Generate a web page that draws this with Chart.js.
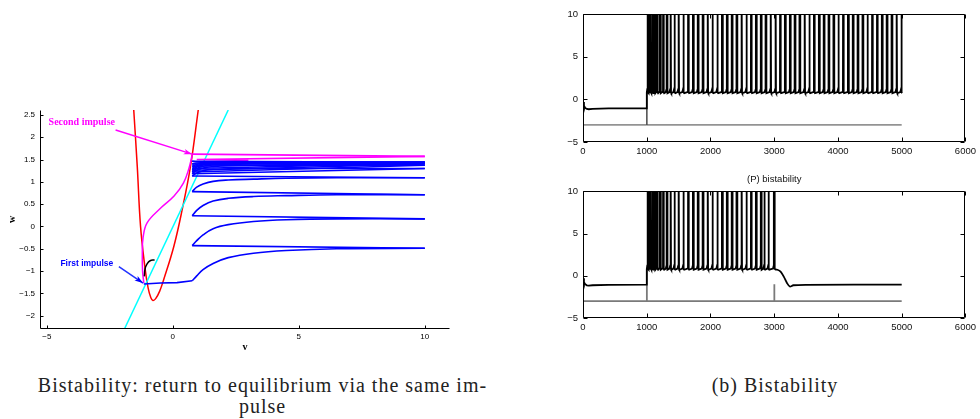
<!DOCTYPE html>
<html>
<head>
<meta charset="utf-8">
<script src="https://cdn.jsdelivr.net/npm/chart.js@4.4.1/dist/chart.umd.min.js"></script>
<style>
html, body { margin: 0; padding: 0; background: #fff; width: 980px; height: 419px; overflow: hidden; }
.pane { position: absolute; }
.cap { position: absolute; font-family: "Liberation Serif", serif; font-size: 20px; line-height: 20px;
       color: #222; white-space: nowrap; text-align: center; letter-spacing: 1px; }
</style>
</head>
<body>
<div class="pane" style="left:0;top:100px"><canvas id="phase" width="460" height="260"></canvas></div>
<div class="pane" style="left:530px;top:0"><canvas id="trainTop" width="450" height="160"></canvas></div>
<div class="pane" style="left:530px;top:160px"><canvas id="trainBottom" width="450" height="180"></canvas></div>
<div class="cap" style="left:20px;top:375px;width:485px">Bistability: return to equilibrium via the same im-</div>
<div class="cap" style="left:20px;top:396px;width:485px">pulse</div>
<div class="cap" style="left:620px;top:375px;width:310px">(b) Bistability</div>

<script>
// ---------- phase plane (left) ----------
const V_TICKS = [-5, 0, 5, 10];
const W_TICKS = [-2, -1.5, -1, -0.5, 0, 0.5, 1, 1.5, 2, 2.5];

// red nullcline
const NULL_V = [-1.55, -1.41, -1.28, -1.11, -0.98, -0.87, -0.79, -0.68, -0.52, -0.36, 0.04, 0.37, 0.70, 1.01];
const NULL_W = [2.61, 1.34, 0.0, -0.90, -1.38, -1.60, -1.66, -1.62, -1.45, -1.19, -0.45, 0.37, 1.34, 2.61];

// cyan nullcline
const LIN_V = [-1.92, 2.2];
const LIN_W = [-2.3, 2.61];

// black arc near rest
const ARC_V = [-1.13, -1.10, -1.02, -0.90, -0.72];
const ARC_W = [-1.12, -0.95, -0.84, -0.77, -0.75];

// blue: first impulse, flat part
const FIRST_V = [-1.15, -0.49, 0.17, 0.77];
const FIRST_W = [-1.29, -1.27, -1.26, -1.22];

// blue: each climb toward v = 10, sampled at the same v values
const RISE_V = [0.77, 0.95, 1.2, 1.6, 2.2, 3.2, 4.5, 6.5, 10];
const RISE_W = [
  [-1.22, -1.11, -0.97, -0.83, -0.70, -0.60, -0.54, -0.50, -0.49],
  [-0.43, -0.32, -0.19, -0.05, 0.04, 0.11, 0.15, 0.17, 0.17],
  [0.24, 0.36, 0.47, 0.57, 0.63, 0.67, 0.69, 0.71, 0.71],
  [0.78, 0.88, 0.95, 1.01, 1.04, 1.06, 1.08, 1.09, 1.09],
  [1.13, 1.20, 1.25, 1.28, 1.29, 1.30, 1.30, 1.30, 1.30],
  [1.18, 1.26, 1.31, 1.34, 1.36, 1.37, 1.37, 1.37, 1.37],
  [1.22, 1.30, 1.35, 1.38, 1.39, 1.40, 1.40, 1.40, 1.40],
  [1.26, 1.33, 1.38, 1.40, 1.41, 1.42, 1.42, 1.42, 1.42],
  [1.30, 1.36, 1.40, 1.42, 1.43, 1.43, 1.43, 1.43, 1.43],
  [1.35, 1.39, 1.42, 1.43, 1.44, 1.44, 1.44, 1.44, 1.44],
  [1.40, 1.42, 1.43, 1.44, 1.44, 1.44, 1.44, 1.44, 1.44],
  [1.46, 1.45, 1.44, 1.44, 1.44, 1.44, 1.44, 1.44, 1.44]
];

// magenta: second impulse
const MAG_UP_V = [-1.15, -1.20, -1.21, -1.18, -1.02, -0.50, 0.05, 0.42, 0.64, 0.77];
const MAG_UP_W = [-1.27, -1.00, -0.60, -0.25, 0.08, 0.40, 0.68, 0.97, 1.30, 1.60];
const MAG_TOP_V = [0.77, 10];
const MAG_TOP_W = [1.62, 1.57];
const MAG_BACK_V = [10, 0.95, 3.0];
const MAG_BACK_W = [1.57, 1.50, 1.48];

// arrows and labels
const ARROW2_V = [-2.27, 0.77];
const ARROW2_W = [2.16, 1.62];
const ARROW1_V = [-2.14, -1.18];
const ARROW1_W = [-0.90, -1.27];
const LABEL_TEXT = ['Second impulse', 'First impulse'];
const LABEL_V = [-4.93, -4.46];
const LABEL_W = [2.33, -0.84];
const LABEL_COLOR = ['#ff00ff', '#0000ff'];

// ---------- spike trains (right) ----------
const T_TICKS = [0, 1000, 2000, 3000, 4000, 5000, 6000];
const Y_TICKS = [-5, 0, 5, 10];

const REST_T = [0, 15, 35, 60, 90, 150, 400, 1000];
const REST_V = [-0.3, -0.75, -1.0, -1.13, -1.16, -1.12, -1.07, -1.05];

const SPIKES_TOP = [1008, 1030, 1055, 1085, 1120, 1160, 1205, 1255, 1310, 1368, 1430, 1494,
  1570, 1647, 1722, 1798, 1875, 1950, 2026, 2103, 2178, 2254, 2331, 2406, 2482, 2559, 2634,
  2710, 2787, 2862, 2938, 3015, 3090, 3166, 3243, 3318, 3394, 3471, 3546, 3622, 3699, 3774,
  3850, 3927, 4002, 4078, 4155, 4230, 4306, 4383, 4458, 4534, 4611, 4686, 4762, 4839, 4914, 4990];
const SPIKES_BOTTOM = [1008, 1030, 1055, 1085, 1120, 1160, 1205, 1255, 1310, 1368, 1430, 1494,
  1570, 1647, 1722, 1798, 1875, 1950, 2026, 2103, 2178, 2254, 2331, 2406, 2482, 2559, 2634,
  2710, 2787, 2840, 2905, 2992];

const POST_T = [3010, 3050, 3100, 3150, 3200, 3245, 3300, 3500, 5000];
const POST_V = [0.75, 0.72, 0.5, -0.1, -0.85, -1.27, -1.12, -1.07, -1.05];

const STIM_TOP_T = [0, 1000, 1000, 1004, 5000];
const STIM_TOP_V = [-3, -3, 0.8, -3, -3];
const STIM_BOT_T = [0, 1000, 1000, 1004, 3000, 3000, 3004, 5000];
const STIM_BOT_V = [-3, -3, 0.8, -3, -3, -1.0, -3, -3];

// ---------- helpers ----------
function pts(xs, ys) { return xs.map((x, i) => ({x: x, y: ys[i]})); }

function line(data, color, width, tension, order) {
  return { data: data, borderColor: color, borderWidth: width, tension: tension || 0,
           order: order || 0, pointRadius: 0, showLine: true, fill: false };
}

// turns the spike times into a voltage trace (peaks go past 10 and get clipped)
function spikeTrace(spikes) {
  const out = [];
  for (let i = 0; i < spikes.length; i++) {
    const t = spikes[i];
    const prevEnd = i > 0 ? spikes[i - 1] + 18 : 1002;
    if (t - 12 > prevEnd) out.push({x: t - 12, y: 0.85});
    out.push({x: t, y: 1.2}, {x: t + 2, y: 14}, {x: t + 11, y: 14}, {x: t + 13, y: 0.8}, {x: t + 18, y: 0.72});
  }
  return out;
}

const fmt = v => String(v).replace('-', '\u2212');

// inward tick marks, optional full box
const framePlugin = {
  id: 'frame',
  afterDraw(chart, args, opts) {
    const {ctx, chartArea: a, scales: {x, y}} = chart;
    const L = opts.len || 4;
    const l = Math.round(a.left) + 0.5, r = Math.round(a.right) - 0.5;
    const t = Math.round(a.top) + 0.5, b = Math.round(a.bottom) - 0.5;
    ctx.save();
    ctx.strokeStyle = '#000';
    ctx.lineWidth = 1;
    ctx.beginPath();
    if (opts.box) {
      ctx.rect(l, t, r - l, b - t);
    } else {
      ctx.moveTo(l, t); ctx.lineTo(l, b); ctx.lineTo(r, b);
    }
    x.ticks.forEach(tk => {
      const px = Math.round(x.getPixelForValue(tk.value)) + 0.5;
      ctx.moveTo(px, b); ctx.lineTo(px, b - L);
      if (opts.box) { ctx.moveTo(px, t); ctx.lineTo(px, t + L); }
    });
    y.ticks.forEach(tk => {
      const py = Math.round(y.getPixelForValue(tk.value)) + 0.5;
      ctx.moveTo(l, py); ctx.lineTo(l + L, py);
      if (opts.box) { ctx.moveTo(r, py); ctx.lineTo(r - L, py); }
    });
    ctx.stroke();
    ctx.restore();
  }
};

// labels, arrow heads and axis titles of the phase plane
const phaseDecor = {
  id: 'phaseDecor',
  afterDraw(chart) {
    const {ctx, chartArea: a, scales: {x, y}} = chart;
    ctx.save();
    const heads = [[ARROW2_V, ARROW2_W, '#ff00ff'], [ARROW1_V, ARROW1_W, '#0000ff']];
    heads.forEach(([vs, ws, c]) => {
      const x0 = x.getPixelForValue(vs[0]), y0 = y.getPixelForValue(ws[0]);
      const x1 = x.getPixelForValue(vs[1]), y1 = y.getPixelForValue(ws[1]);
      const ang = Math.atan2(y1 - y0, x1 - x0), hl = 9, sp = 0.32;
      ctx.fillStyle = c;
      ctx.beginPath();
      ctx.moveTo(x1, y1);
      ctx.lineTo(x1 - hl * Math.cos(ang - sp), y1 - hl * Math.sin(ang - sp));
      ctx.lineTo(x1 - hl * 0.7 * Math.cos(ang), y1 - hl * 0.7 * Math.sin(ang));
      ctx.lineTo(x1 - hl * Math.cos(ang + sp), y1 - hl * Math.sin(ang + sp));
      ctx.closePath();
      ctx.fill();
    });
    ctx.textBaseline = 'middle';
    ctx.textAlign = 'left';
    LABEL_TEXT.forEach((s, i) => {
      ctx.fillStyle = LABEL_COLOR[i];
      ctx.font = i === 0 ? 'bold 10px "Liberation Serif"' : 'bold 8.5px "Liberation Sans"';
      ctx.fillText(s, x.getPixelForValue(LABEL_V[i]), y.getPixelForValue(LABEL_W[i]));
    });
    ctx.fillStyle = '#000';
    ctx.font = 'bold 10px "Liberation Serif"';
    ctx.textAlign = 'center';
    ctx.fillText('v', (a.left + a.right) / 2 + 0, a.bottom + 18);
    ctx.translate(12, (a.top + a.bottom) / 2);
    ctx.rotate(-Math.PI / 2);
    ctx.fillText('w', 0, 0);
    ctx.restore();
  }
};

Chart.defaults.animation = false;
Chart.defaults.events = [];
Chart.defaults.plugins.legend.display = false;
Chart.defaults.plugins.tooltip.enabled = false;
Chart.defaults.color = '#000';

// ---------- left chart ----------
const phaseSets = [];
phaseSets.push(line(pts(ARROW2_V, ARROW2_W), '#ff00ff', 1.5, 0, 0));
phaseSets.push(line(pts(ARROW1_V, ARROW1_W), '#2233ff', 1.5, 0, 0));
phaseSets.push(line(pts(ARC_V, ARC_W), '#000000', 1.5, 0.4, 1));
phaseSets.push(line(pts(FIRST_V, FIRST_W), '#0000ff', 1.6, 0, 2));
RISE_W.forEach((ws, k) => {
  phaseSets.push(line(pts(RISE_V, ws), '#0000ff', 1.6, 0.4, 2));
  if (k + 1 < RISE_W.length) {
    phaseSets.push(line([{x: 10, y: ws[ws.length - 1]}, {x: RISE_V[0], y: RISE_W[k + 1][0]}], '#0000ff', 1.6, 0, 2));
  }
});
phaseSets.push(line(pts(MAG_UP_V, MAG_UP_W), '#ff00ff', 1.5, 0.4, 3));
phaseSets.push(line(pts(MAG_TOP_V, MAG_TOP_W), '#ff00ff', 1.8, 0, 3));
phaseSets.push(line(pts(MAG_BACK_V, MAG_BACK_W), '#ff00ff', 1.6, 0, 3));
phaseSets.push(line(pts(LIN_V, LIN_W), '#00ffff', 1.5, 0, 4));
phaseSets.push(line(pts(NULL_V, NULL_W), '#ff0000', 1.5, 0.4, 5));

new Chart(document.getElementById('phase'), {
  type: 'scatter',
  data: { datasets: phaseSets },
  options: {
    responsive: false,
    layout: { padding: { top: 10, right: 10, left: 0, bottom: 0 } },
    scales: {
      x: {
        min: -5.27, max: 11,
        afterBuildTicks: s => { s.ticks = V_TICKS.map(v => ({value: v})); },
        afterFit: s => { s.height = 31; },
        grid: { display: false, drawTicks: false },
        border: { display: false },
        ticks: { padding: 3, font: { family: 'Liberation Sans', size: 8 }, callback: fmt }
      },
      y: {
        min: -2.3, max: 2.61,
        afterBuildTicks: s => { s.ticks = W_TICKS.map(v => ({value: v})); },
        afterFit: s => { s.width = 40; },
        grid: { display: false, drawTicks: false },
        border: { display: false },
        ticks: { padding: 5, font: { family: 'Liberation Sans', size: 8 }, callback: fmt }
      }
    },
    plugins: { frame: { box: false, len: 3 } }
  },
  plugins: [framePlugin, phaseDecor]
});

// ---------- right charts ----------
function trainChart(id, sets, topPad, title) {
  return new Chart(document.getElementById(id), {
    type: 'scatter',
    data: { datasets: sets },
    options: {
      responsive: false,
      layout: { padding: { top: topPad, right: 12, left: 0, bottom: 0 } },
      scales: {
        x: {
          min: 0, max: 6000,
          afterBuildTicks: s => { s.ticks = T_TICKS.map(v => ({value: v})); },
          afterFit: s => { s.height = id === 'trainTop' ? 18 : 22; },
          grid: { display: false, drawTicks: false },
          border: { display: false },
          ticks: { padding: 4, maxRotation: 0, font: { family: 'Liberation Sans', size: 9.5 }, color: '#111', callback: fmt }
        },
        y: {
          min: -5, max: 10,
          afterBuildTicks: s => { s.ticks = Y_TICKS.map(v => ({value: v})); },
          afterFit: s => { s.width = 53; },
          grid: { display: false, drawTicks: false },
          border: { display: false },
          ticks: { padding: 5, font: { family: 'Liberation Sans', size: 9.5 }, color: '#111', callback: fmt }
        }
      },
      plugins: {
        frame: { box: true, len: 4 },
        title: title ? { display: true, text: title, fullSize: false, color: '#111',
                         font: { family: 'Liberation Sans', size: 9.5, weight: 'normal' },
                         padding: { top: 14, bottom: 6 } } : { display: false }
      }
    },
    plugins: [framePlugin]
  });
}

const topTrace = pts(REST_T, REST_V).concat([{x: 1000, y: -1.05}, {x: 1002, y: 0.8}], spikeTrace(SPIKES_TOP));
trainChart('trainTop', [
  line(topTrace, '#000', 1.8, 0, 0),
  line(pts(STIM_TOP_T, STIM_TOP_V), '#444', 1, 0, 1)
], 14, null);

const botTrace = pts(REST_T, REST_V).concat([{x: 1000, y: -1.05}, {x: 1002, y: 0.8}], spikeTrace(SPIKES_BOTTOM));
trainChart('trainBottom', [
  line(botTrace, '#000', 1.8, 0, 0),
  line(pts(POST_T, POST_V), '#000', 1.8, 0.3, 0),
  line(pts(STIM_BOT_T, STIM_BOT_V), '#7a7a7a', 1.8, 0, 1)
], 0, '(P) bistability');
</script>
</body>
</html>
